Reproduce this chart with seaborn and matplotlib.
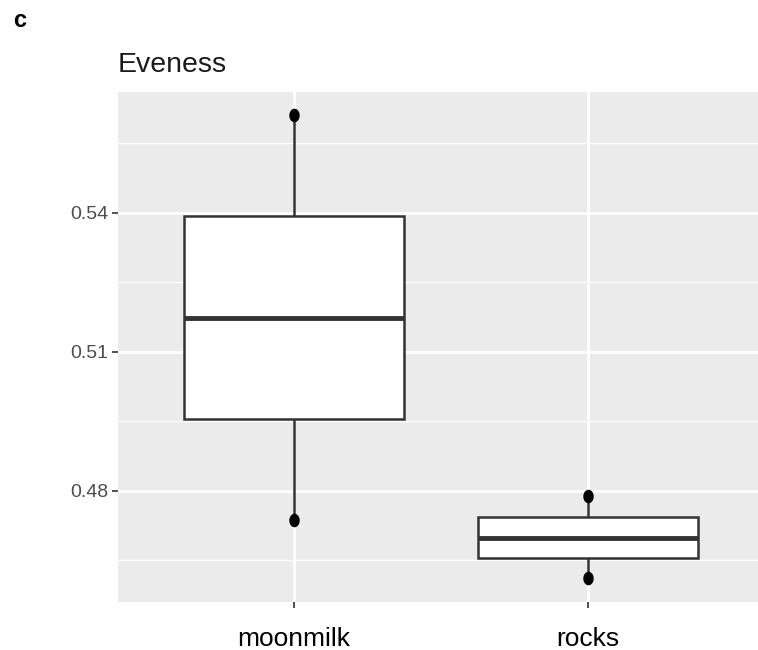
import numpy as np
import pandas as pd
import matplotlib
matplotlib.use("Agg")
import matplotlib.pyplot as plt
from matplotlib.path import Path
import seaborn as sns

# Evenness values per sample type
groups = ["moonmilk", "rocks"]
moonmilk = [0.4737, 0.5173, 0.5612]
rocks = [0.4612, 0.4699, 0.4789]
y_ticks = [0.48, 0.51, 0.54]
y_minor = [0.465, 0.495, 0.525, 0.555]

df = pd.DataFrame({
    "group": ["moonmilk"] * len(moonmilk) + ["rocks"] * len(rocks),
    "evenness": moonmilk + rocks,
})

sns.set_theme(style="white")
plt.rcParams["font.family"] = ["Liberation Sans", "DejaVu Sans"]

W, H = 758, 650
fig = plt.figure(figsize=(W / 100, H / 100), dpi=100)
px0, px1, py0, py1 = 118, 764, 92, 602
ax = fig.add_axes([px0 / W, 1 - py1 / H, (px1 - px0) / W, (py1 - py0) / H])
ax.set_facecolor("#EBEBEB")
for s in ax.spines.values():
    s.set_visible(False)

# grid
for y in y_minor:
    ax.axhline(y, color="white", lw=1.0, zorder=0)
for y in y_ticks:
    ax.axhline(y, color="white", lw=2.0, zorder=0)
for x in range(len(groups)):
    ax.axvline(x, color="white", lw=2.0, zorder=0)

sns.boxplot(data=df, x="group", y="evenness", order=groups, ax=ax,
            whis=np.inf, width=0.75, showcaps=False, showfliers=False,
            color="white", linecolor="#333333", linewidth=1.8,
            medianprops=dict(linewidth=3.5, color="#333333"),
            zorder=2)
for p in ax.patches:
    p.set_facecolor("white")

# slightly tall dot marker for whisker ends
t = np.linspace(0, 2 * np.pi, 60)
verts = np.column_stack([np.cos(t), 1.3 * np.sin(t)])
dot = Path(verts)
ends = df.groupby("group")["evenness"].agg(["min", "max"]).reindex(groups)
for i, g in enumerate(groups):
    ax.scatter([i, i], [ends.loc[g, "min"], ends.loc[g, "max"]],
               marker=dot, s=95, color="black", zorder=4, linewidths=0)

ax.set_xlim(-0.6, 1.6)
ax.set_ylim(0.4560, 0.5661)
ax.set_yticks(y_ticks)
ax.set_yticklabels([f"{v:.2f}" for v in y_ticks])
ax.set_xlabel("")
ax.set_ylabel("")
ax.tick_params(axis="y", length=4, width=1.2, color="#333333",
               labelsize=14, labelcolor="#4D4D4D", pad=3, left=True)
ax.tick_params(axis="x", length=4, width=1.2, color="#333333",
               labelsize=19, labelcolor="black", pad=14, bottom=True)

fig.text(118 / W, 1 - 72 / H, "Eveness", fontsize=20.5, color="#1A1A1A",
         ha="left", va="baseline")
fig.text(13 / W, 1 - 27 / H, "c", fontsize=17, fontweight="bold",
         color="black", ha="left", va="baseline")

fig.savefig("out.png", dpi=100)
